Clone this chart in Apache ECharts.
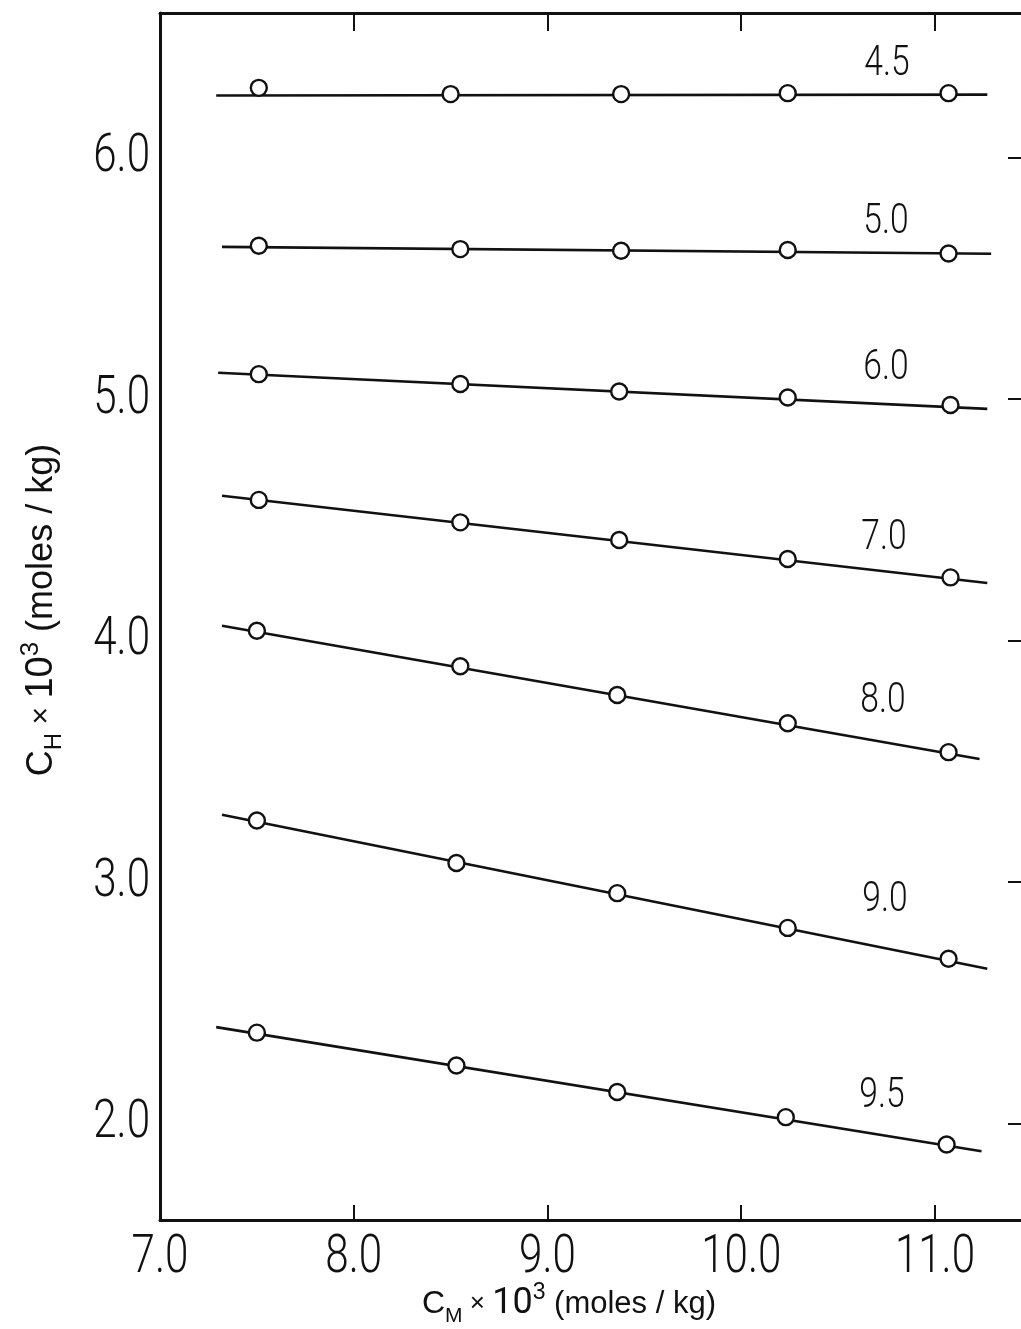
<!DOCTYPE html>
<html>
<head>
<meta charset="utf-8">
<script src="https://cdn.jsdelivr.net/npm/echarts@6/dist/echarts.min.js"></script>
<style>
  html, body { margin: 0; padding: 0; background: #fff; }
  #chart { width: 1021px; height: 1329px; }
</style>
</head>
<body>
<div id="chart"></div>
<script>
// Tick values for both axes
const xTicks = [7.0, 8.0, 9.0, 10.0, 11.0];
const yTicks = [2.0, 3.0, 4.0, 5.0, 6.0];

// Series names (parameter value for each family)
const seriesNames = ['4.5', '5.0', '6.0', '7.0', '8.0', '9.0', '9.5'];

// Measured points [C_M x 10^3, C_H x 10^3] for each family
const pts45 = [[7.51, 6.290], [8.50, 6.264], [9.38, 6.264], [10.24, 6.268], [11.07, 6.268]];
const pts50 = [[7.51, 5.636], [8.55, 5.622], [9.38, 5.615], [10.24, 5.618], [11.07, 5.604]];
const pts60 = [[7.51, 5.104], [8.55, 5.063], [9.37, 5.032], [10.24, 5.007], [11.08, 4.976]];
const pts70 = [[7.51, 4.583], [8.55, 4.490], [9.37, 4.417], [10.24, 4.338], [11.08, 4.262]];
const pts80 = [[7.50, 4.041], [8.55, 3.894], [9.36, 3.775], [10.24, 3.658], [11.07, 3.538]];
const pts90 = [[7.50, 3.255], [8.53, 3.079], [9.36, 2.954], [10.24, 2.810], [11.07, 2.682]];
const pts95 = [[7.50, 2.376], [8.53, 2.240], [9.36, 2.130], [10.23, 2.026], [11.06, 1.913]];

// Fitted straight lines: [start, end] for each family
const fit45 = [[7.29, 6.258], [11.27, 6.262]];
const fit50 = [[7.32, 5.631], [11.29, 5.603]];
const fit60 = [[7.30, 5.110], [11.27, 4.960]];
const fit70 = [[7.32, 4.600], [11.27, 4.239]];
const fit80 = [[7.32, 4.062], [11.23, 3.510]];
const fit90 = [[7.32, 3.279], [11.27, 2.641]];
const fit95 = [[7.29, 2.399], [11.24, 1.885]];

const pointSets = [pts45, pts50, pts60, pts70, pts80, pts90, pts95];
const fitSets = [fit45, fit50, fit60, fit70, fit80, fit90, fit95];

// Where each family's name is written (pixels)
const nameSpots = [[887, 64], [886, 222], [886, 368], [884, 538], [883, 701], [885, 900], [882, 1096]];

const THIN = "Roboto, 'DejaVu Sans', sans-serif";
const SANS = "'Liberation Sans', Arial, sans-serif";
const INK = '#111';

const X_MIN = 7.0, X_MAX = 11.444, Y_MIN = 1.6, Y_MAX = 6.6;

const chart = echarts.init(document.getElementById('chart'), null, { renderer: 'canvas' });

const series = [];
pointSets.forEach((pts, i) => {
  series.push({
    name: seriesNames[i] + ' fit',
    type: 'line',
    data: fitSets[i],
    symbol: 'none',
    silent: true,
    lineStyle: { color: INK, width: 2.6 },
    z: 2
  });
  series.push({
    name: seriesNames[i],
    type: 'scatter',
    data: pts,
    symbol: 'circle',
    symbolSize: 16,
    itemStyle: { color: '#fff', borderColor: INK, borderWidth: 2.4, opacity: 1 },
    z: 3
  });
});

const axisLineStyle = { color: INK, width: 3 };
const tickStyle = { color: INK, width: 2 };

// condensed lettering used for numbers on the chart
function numText(x, y, text, size, sx, align, vAlign) {
  return {
    type: 'text', x: x, y: y, scaleX: sx, z: 10, silent: true,
    style: {
      x: 0, y: 0, text: text, fill: INK,
      font: '300 ' + size + 'px ' + THIN,
      align: align, verticalAlign: vAlign
    }
  };
}

const baseGraphic = [
  // family names
  ...seriesNames.map((name, i) => numText(nameSpots[i][0], nameSpots[i][1], name, 42, 0.8, 'center', 'middle')),
  // x-axis title
  {
    type: 'text', x: 569, y: 1304, z: 10, silent: true,
    style: {
      text: '{c|C}{sub|M}{x| × }{n|10}{sup|3}{u| (moles / kg)}',
      align: 'center', verticalAlign: 'middle',
      rich: {
        c: { fontFamily: SANS, fontSize: 32, fill: INK, lineHeight: 46, verticalAlign: 'middle' },
        sub: { fontFamily: SANS, fontSize: 21, fill: INK, lineHeight: 46, verticalAlign: 'bottom' },
        x: { fontFamily: SANS, fontSize: 26, fill: INK, lineHeight: 46, verticalAlign: 'middle' },
        n: { fontFamily: THIN, fontSize: 36, fill: INK, lineHeight: 46, verticalAlign: 'middle' },
        sup: { fontFamily: SANS, fontSize: 23, fill: INK, lineHeight: 46, verticalAlign: 'top' },
        u: { fontFamily: SANS, fontSize: 31, fill: INK, lineHeight: 46, verticalAlign: 'middle' }
      }
    }
  },
  // y-axis title
  {
    type: 'text', x: 42, y: 610, rotation: Math.PI / 2, z: 10, silent: true,
    style: {
      text: '{c|C}{sub|H}{x| × }{n|10}{sup|3}{u| (moles / kg)}',
      align: 'center', verticalAlign: 'middle',
      rich: {
        c: { fontFamily: SANS, fontSize: 36, fill: INK, lineHeight: 48, verticalAlign: 'middle' },
        sub: { fontFamily: SANS, fontSize: 24, fill: INK, lineHeight: 48, verticalAlign: 'bottom' },
        x: { fontFamily: SANS, fontSize: 30, fill: INK, lineHeight: 48, verticalAlign: 'middle' },
        n: { fontFamily: SANS, fontSize: 38, fill: INK, lineHeight: 48, verticalAlign: 'middle' },
        sup: { fontFamily: SANS, fontSize: 26, fill: INK, lineHeight: 48, verticalAlign: 'top' },
        u: { fontFamily: SANS, fontSize: 36, fill: INK, lineHeight: 48, verticalAlign: 'middle' }
      }
    }
  }
];

const option = {
  backgroundColor: '#fff',
  animation: false,
  grid: { left: 160, top: 13, right: 0, height: 1207, containLabel: false },
  xAxis: [
    {
      type: 'value', position: 'bottom', min: X_MIN, max: X_MAX,
      axisLine: { show: true, onZero: false, lineStyle: axisLineStyle },
      axisTick: { show: true, inside: true, length: 15, customValues: xTicks.slice(1), lineStyle: tickStyle },
      axisLabel: { show: false },
      splitLine: { show: false }
    },
    {
      type: 'value', position: 'top', min: X_MIN, max: X_MAX,
      axisLine: { show: true, onZero: false, lineStyle: axisLineStyle },
      axisTick: { show: true, inside: true, length: 18, customValues: xTicks.slice(1), lineStyle: tickStyle },
      axisLabel: { show: false },
      splitLine: { show: false }
    }
  ],
  yAxis: [
    {
      type: 'value', position: 'left', min: Y_MIN, max: Y_MAX,
      axisLine: { show: true, onZero: false, lineStyle: axisLineStyle },
      axisTick: { show: false },
      axisLabel: { show: false },
      splitLine: { show: false }
    },
    {
      type: 'value', position: 'right', min: Y_MIN, max: Y_MAX,
      axisLine: { show: false, onZero: false },
      axisTick: { show: true, inside: true, length: 13, customValues: yTicks, lineStyle: tickStyle },
      axisLabel: { show: false },
      splitLine: { show: false }
    }
  ],
  graphic: baseGraphic,
  series: series
};

chart.setOption(option);

// Tick labels placed through the axis scales, drawn in condensed lettering
const axisLeftPx = chart.convertToPixel({ xAxisIndex: 0 }, X_MIN);
const axisBottomPx = chart.convertToPixel({ yAxisIndex: 0 }, Y_MIN);
const tickLabels = [
  ...xTicks.map(v => numText(chart.convertToPixel({ xAxisIndex: 0 }, v), axisBottomPx + 11,
    v.toFixed(1), 54, 0.78, 'center', 'top')),
  ...yTicks.map(v => numText(axisLeftPx - 10, chart.convertToPixel({ yAxisIndex: 0 }, v),
    v.toFixed(1), 54, 0.78, 'right', 'middle'))
];
chart.setOption({ graphic: baseGraphic.concat(tickLabels) });
</script>
</body>
</html>
